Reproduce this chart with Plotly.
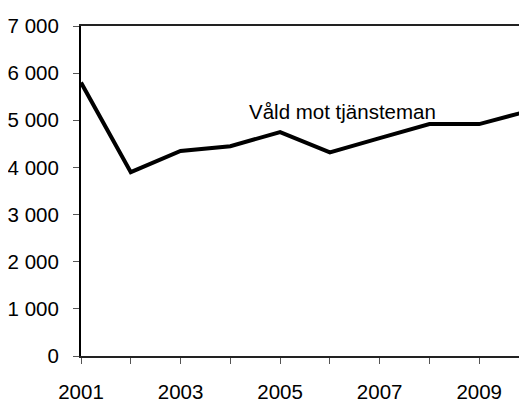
import plotly.graph_objects as go

years = [2001, 2002, 2003, 2004, 2005, 2006, 2007, 2008, 2009, 2010]
vald_mot_tjansteman = [5800, 3900, 4350, 4450, 4750, 4320, 4620, 4920, 4920, 5200]

y_tickvals = [0, 1000, 2000, 3000, 4000, 5000, 6000, 7000]
y_ticktext = ["0", "1 000", "2 000", "3 000", "4 000", "5 000", "6 000", "7 000"]
x_tickvals = [2001, 2002, 2003, 2004, 2005, 2006, 2007, 2008, 2009, 2010]
x_ticktext = ["2001", "", "2003", "", "2005", "", "2007", "", "2009", ""]
series_label = "Våld mot tjänsteman"

FONT = "Liberation Sans, Arial, sans-serif"

fig = go.Figure()
fig.add_trace(go.Scatter(
    x=years, y=vald_mot_tjansteman, mode="lines",
    line=dict(color="black", width=4), showlegend=False, hoverinfo="skip",
))

fig.add_annotation(
    x=2004.34, y=5180, text=series_label, showarrow=False,
    xanchor="left", yanchor="middle",
    font=dict(family=FONT, size=20.5, color="black"),
)

fig.update_layout(
    width=519, height=395,
    margin=dict(l=73, r=0, t=18, b=41),
    paper_bgcolor="white", plot_bgcolor="white",
    font=dict(family=FONT, size=20.5, color="black"),
)
fig.update_xaxes(
    range=[2001, 2009.96], tickvals=x_tickvals, ticktext=x_ticktext,
    showgrid=False, zeroline=False,
    showline=True, linecolor="#222", linewidth=2, mirror=True,
    ticks="outside", ticklen=6, tickwidth=1, tickcolor="#555",
    ticklabelstandoff=10,
)
fig.update_yaxes(
    range=[0, 7000], tickvals=y_tickvals, ticktext=y_ticktext,
    showgrid=False, zeroline=False,
    showline=True, linecolor="black", linewidth=2,
    ticks="outside", ticklen=6, tickwidth=1, tickcolor="#555",
    ticklabelstandoff=10,
)

fig.write_html("out.html")
